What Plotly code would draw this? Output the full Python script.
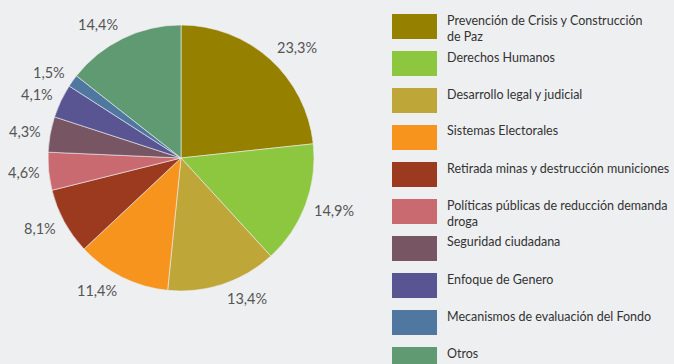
import math
import plotly.graph_objects as go

# Budget share by area
categories = [
    "Prevención de Crisis y Construcción<br>de Paz",
    "Derechos Humanos",
    "Desarrollo legal y judicial",
    "Sistemas Electorales",
    "Retirada minas y destrucción municiones",
    "Políticas públicas de reducción demanda<br>droga",
    "Seguridad ciudadana",
    "Enfoque de Genero",
    "Mecanismos de evaluación del Fondo",
    "Otros",
]
shares = [23.3, 14.9, 13.4, 11.4, 8.1, 4.6, 4.3, 4.1, 1.5, 14.4]
colors = [
    "#968000", "#8dc63f", "#bfa638", "#f7941e", "#9b3a1e",
    "#c96a70", "#785563", "#585592", "#4f77a0", "#5f9a72",
]

W, H = 674, 364
BG = "#eeeff1"


def px_x(x):
    return x / W


def px_y(y):
    return 1 - y / H


# pie geometry in pixels
cx, cy, r = 181, 158, 133
label_gap = 7
half_line = 8

fig = go.Figure()
fig.add_trace(go.Pie(
    values=shares,
    labels=[c.replace("<br>", " ") for c in categories],
    marker=dict(colors=colors, line=dict(color=BG, width=0.6)),
    sort=False,
    direction="clockwise",
    rotation=0,
    textinfo="none",
    hoverinfo="label+percent",
    showlegend=False,
    domain=dict(x=[px_x(cx - r), px_x(cx + r)], y=[px_y(cy + r), px_y(cy - r)]),
))

annotations = []
total = sum(shares)
cum = 0.0
for v in shares:
    mid = (cum + v / 2) / total * 2 * math.pi
    cum += v
    dx, dy = math.sin(mid), -math.cos(mid)
    # label sits just outside the rim, on the slice's side of the pie
    lx = cx + (r + label_gap) * dx
    ly = cy + (r + label_gap) * dy + half_line * dy
    annotations.append(dict(
        x=px_x(lx), y=px_y(ly), xref="paper", yref="paper",
        text=f"{v:.1f}".replace(".", ",") + "%",
        showarrow=False, xanchor="left" if dx > 0 else "right",
        yanchor="middle",
        font=dict(family="Lato", size=14.5, color="#555555"),
    ))

# legend drawn as swatches with labels
shapes = []
sw_x0, sw_w, sw_h = 392, 45, 25
row0, row_step = 14, 37
for i, (name, col) in enumerate(zip(categories, colors)):
    top = row0 + i * row_step
    shapes.append(dict(
        type="rect", xref="paper", yref="paper",
        x0=px_x(sw_x0), x1=px_x(sw_x0 + sw_w),
        y0=px_y(top + sw_h), y1=px_y(top),
        fillcolor=col, line=dict(width=0),
    ))
    annotations.append(dict(
        x=px_x(445), y=px_y(top - 3.5), xref="paper", yref="paper",
        text=name, showarrow=False, xanchor="left", yanchor="top",
        align="left",
        font=dict(family="Lato", size=12.5, color="#333333"),
    ))

fig.update_layout(
    width=W, height=H,
    margin=dict(l=0, r=0, t=0, b=0),
    paper_bgcolor=BG, plot_bgcolor=BG,
    annotations=annotations,
    shapes=shapes,
)

fig.write_html("out.html")
